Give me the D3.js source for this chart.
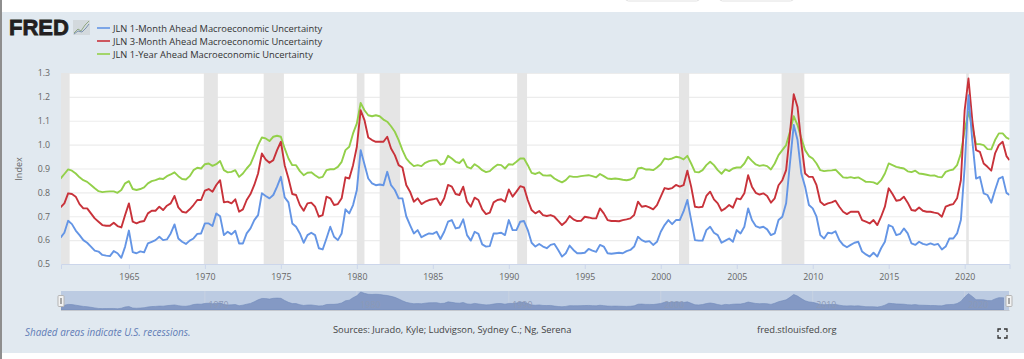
<!DOCTYPE html>
<html>
<head>
<meta charset="utf-8">
<script src="https://cdn.jsdelivr.net/npm/d3@7"></script>
<style>
html, body { margin: 0; padding: 0; background: #fff; overflow: hidden; }
text { font-family: "Open Sans", sans-serif; }
</style>
</head>
<body>
<script>
// data, one value per quarter from mid 1960
var oneMonth = [
    .61, .631,
    .681, .667, .64, .621,
    .60, .589, .573, .556,
    .552, .538, .535, .533,
    .554, .545, .526, .573,
    .64, .55, .545, .553,
    .549, .586, .593, .60,
    .614, .60, .603, .628,
    .666, .607, .593, .584,
    .598, .607, .626, .628,
    .67, .67, .659, .712,
    .70, .621, .635, .624,
    .639, .586, .586, .628,
    .649, .684, .705, .796,
    .785, .775, .789, .824,
    .865, .779, .758, .67,
    .656, .628, .589, .621,
    .631, .621, .566, .561,
    .607, .656, .614, .60,
    .628, .729, .712, .747,
    .81, .977, .918, .858,
    .838, .83, .833, .83,
    .886, .83, .81, .775,
    .775, .70, .663, .628,
    .642, .612, .621, .628,
    .626, .635, .605, .635,
    .677, .684, .649, .653,
    .687, .621, .598, .635,
    .626, .582, .573, .575,
    .628, .628, .631, .621,
    .684, .642, .642, .677,
    .68, .642, .589, .573,
    .584, .573, .566, .58,
    .584, .559, .531, .545,
    .577, .559, .545, .545,
    .547, .563, .556, .551,
    .58, .573, .545, .543,
    .545, .547, .545, .554,
    .559, .573, .614, .60,
    .593, .596, .58, .593,
    .635, .663, .684, .667,
    .684, .684, .72, .768,
    .684, .60, .598, .598,
    .642, .656, .631, .621,
    .589, .598, .607, .593,
    .642, .628, .656, .733,
    .684, .659, .652, .656,
    .645, .621, .628, .684,
    .698, .754, .921, 1.082,
    1.019, .879, .824, .747,
    .733, .698, .621, .607,
    .631, .628, .637, .60,
    .58, .57, .58, .589,
    .593, .552, .54, .531,
    .547, .531, .566, .593,
    .663, .656, .621, .626,
    .649, .628, .586, .58,
    .593, .584, .58, .586,
    .58, .584, .561, .573,
    .607, .607, .628, .684,
    .907, 1.207, 1.019, .858,
    .865, .796, .789, .757,
    .81, .858, .865, .798,
    .789
];
var threeMonth = [
    .737, .754,
    .796, .793, .782, .751,
    .733, .733, .712, .691,
    .677, .663, .66, .66,
    .673, .659, .653, .705,
    .754, .677, .67, .677,
    .68, .712, .723, .723,
    .74, .726, .744, .754,
    .785, .737, .719, .715,
    .729, .747, .768, .768,
    .807, .814, .803, .831,
    .851, .758, .761, .754,
    .771, .719, .729, .768,
    .793, .831, .879, .963,
    .938, .924, .935, .977,
    1.012, .914, .858, .793,
    .789, .747, .723, .754,
    .757, .74, .698, .705,
    .782, .775, .747, .751,
    .775, .863, .858, .914,
    .991, 1.144, 1.103, 1.03,
    1.019, 1.012, 1.012, 1.012,
    1.033, .984, .956, .914,
    .904, .831, .803, .761,
    .775, .751, .761, .768,
    .771, .775, .747, .775,
    .831, .824, .793, .789,
    .824, .761, .74, .778,
    .768, .729, .709, .715,
    .758, .768, .771, .761,
    .812, .782, .803, .826,
    .821, .768, .726, .712,
    .722, .705, .701, .705,
    .698, .681, .663, .677,
    .701, .687, .68, .681,
    .698, .695, .691, .691,
    .733, .712, .684, .68,
    .68, .679, .684, .687,
    .691, .705, .761, .74,
    .743, .737, .729, .747,
    .782, .818, .814, .818,
    .831, .824, .83, .891,
    .824, .74, .737, .74,
    .785, .803, .771, .754,
    .723, .733, .747, .736,
    .775, .771, .796, .872,
    .824, .798, .791, .796,
    .785, .757, .775, .83,
    .851, .893, 1.047, 1.211,
    1.158, 1.005, .879, .865,
    .865, .83, .761, .747,
    .754, .758, .765, .74,
    .719, .709, .719, .719,
    .719, .684, .677, .67,
    .684, .663, .698, .74,
    .817, .793, .765, .768,
    .782, .757, .726, .723,
    .737, .723, .719, .719,
    .715, .712, .698, .74,
    .747, .751, .775, .851,
    1.144, 1.277, 1.103, .977,
    .97, .921, .907, .891,
    .963, .998, 1.012, .952,
    .935
];
var oneYear = [
    .858, .877,
    .896, .891, .879, .863,
    .851, .844, .831, .817,
    .805, .801, .803, .804,
    .804, .798, .81, .838,
    .847, .814, .81, .814,
    .821, .838, .847, .851,
    .858, .856, .868, .875,
    .884, .868, .856, .854,
    .868, .893, .903, .90,
    .918, .921, .911, .918,
    .931, .893, .884, .886,
    .893, .865, .879, .90,
    .918, .956, .998, 1.03,
    1.026, 1.015, 1.033, 1.037,
    1.033, .984, .942, .914,
    .914, .889, .872, .882,
    .884, .872, .861, .865,
    .893, .897, .897, .907,
    .928, .977, .991, 1.047,
    1.089, 1.175, 1.144, 1.123,
    1.119, 1.123, 1.119, 1.105,
    1.096, 1.077, 1.054, 1.019,
    .977, .942, .924, .91,
    .914, .91, .924, .931,
    .934, .935, .916, .921,
    .953, .942, .928, .923,
    .939, .907, .90, .918,
    .907, .893, .885, .889,
    .904, .916, .914, .90,
    .918, .916, .928, .942,
    .942, .914, .882, .877,
    .884, .872, .87, .872,
    .858, .849, .842, .851,
    .868, .865, .865, .868,
    .87, .872, .868, .863,
    .877, .868, .858, .856,
    .858, .856, .853, .851,
    .854, .863, .90, .903,
    .896, .896, .893, .904,
    .918, .942, .938, .942,
    .949, .946, .938, .953,
    .921, .886, .884, .893,
    .914, .928, .914, .893,
    .878, .896, .889, .90,
    .904, .904, .921, .949,
    .932, .917, .911, .914,
    .91, .896, .921, .956,
    .977, .998, 1.054, 1.119,
    1.082, 1.026, .977, .952,
    .942, .921, .893, .889,
    .891, .892, .895, .879,
    .863, .861, .864, .86,
    .863, .854, .844, .844,
    .842, .835, .851, .879,
    .921, .914, .907, .903,
    .90, .888, .885, .891,
    .879, .877, .874, .87,
    .871, .865, .863, .886,
    .892, .896, .914, .963,
    1.061, 1.137, 1.075, 1.002,
    1.002, .998, .981, .98,
    1.019, 1.047, 1.047, 1.029,
    1.023
];
// shaded recessions, start and end year
var recessionStarts = [1960.3, 1969.93, 1973.87, 1980.0, 1981.5, 1990.55, 2001.2, 2007.95, 2020.1];
var recessionEnds = [1961.1, 1970.85, 1975.2, 1980.5, 1982.85, 1991.2, 2001.87, 2009.45, 2020.27];

var yTicks = [0.5, 0.6, 0.7, 0.8, 0.9, 1.0, 1.1, 1.2, 1.3];
var xTicks = [1965, 1970, 1975, 1980, 1985, 1990, 1995, 2000, 2005, 2010, 2015, 2020];
var navTicks = [1970, 1980, 1990, 2000, 2010, 2020];
var legendNames = [
    "JLN 1-Month Ahead Macroeconomic Uncertainty",
    "JLN 3-Month Ahead Macroeconomic Uncertainty",
    "JLN 1-Year Ahead Macroeconomic Uncertainty"
];
var colors = ["#6495e5", "#c8323a", "#93d04a"];

// dates for the values, last one is the partial quarter at the end
var dates = d3.range(1960.5, 2022.8, 0.25);
dates.push(2022.95);

var MARGINS = {top: 73, bottom: 95, left: 61, right: 14.5};
var WIDTH = 1024, HEIGHT = 359;

var svg = d3.select("body").append("svg")
    .attr("width", WIDTH)
    .attr("height", HEIGHT)
    .style("display", "block");

// panel background
svg.append("rect").attr("x", 0).attr("y", 0).attr("width", 2).attr("height", HEIGHT).attr("fill", "#8e8e8e");
svg.append("rect").attr("x", 2).attr("y", 12).attr("width", WIDTH - 2).attr("height", 341).attr("fill", "#e1e9f0");

// the two buttons cut off at the top edge
svg.append("g").selectAll("rect")
    .data([625.5, 719.5])
    .enter().append("rect")
    .attr("x", function (d) { return d; })
    .attr("y", -6)
    .attr("width", 74)
    .attr("height", 7)
    .attr("rx", 3)
    .attr("fill", "#fff")
    .attr("stroke", "#e2e2e2");

var xScale = d3.scaleLinear().domain([1960.53, 2022.95]).range([MARGINS.left, WIDTH - MARGINS.right]);
var yScale = d3.scaleLinear().domain([0.5, 1.3]).range([HEIGHT - MARGINS.bottom, MARGINS.top]);

svg.append("rect")
    .attr("x", MARGINS.left)
    .attr("y", MARGINS.top)
    .attr("width", WIDTH - MARGINS.left - MARGINS.right)
    .attr("height", HEIGHT - MARGINS.top - MARGINS.bottom)
    .attr("fill", "#fff");

svg.append("clipPath").attr("id", "plot-clip").append("rect")
    .attr("x", MARGINS.left)
    .attr("y", MARGINS.top - 2)
    .attr("width", WIDTH - MARGINS.left - MARGINS.right)
    .attr("height", HEIGHT - MARGINS.top - MARGINS.bottom + 2);

// y grid and axis
var yAxis = d3.axisLeft(yScale)
    .tickValues(yTicks)
    .tickFormat(d3.format(".1f"))
    .tickSize(-(WIDTH - MARGINS.left - MARGINS.right))
    .tickPadding(11);
var yG = svg.append("g").attr("transform", "translate(" + MARGINS.left + ",0)").call(yAxis);
yG.select(".domain").remove();
yG.selectAll("line").attr("stroke", "#ececec").attr("stroke-width", 1.2);
yG.selectAll("text").attr("fill", "#666").style("font-size", "8.8px").style("font-family", '"Open Sans", sans-serif');

// recessions
svg.append("g").selectAll("rect")
    .data(recessionStarts)
    .enter().append("rect")
    .attr("x", function (d) { return Math.max(xScale(d), MARGINS.left); })
    .attr("y", MARGINS.top)
    .attr("width", function (d, i) { return xScale(recessionEnds[i]) - Math.max(xScale(d), MARGINS.left); })
    .attr("height", HEIGHT - MARGINS.top - MARGINS.bottom)
    .attr("fill", "#e5e5e5");

// x axis
var xAxis = d3.axisBottom(xScale)
    .tickValues(xTicks)
    .tickFormat(d3.format("d"))
    .tickSize(5)
    .tickPadding(5);
var xG = svg.append("g").attr("transform", "translate(0," + (HEIGHT - MARGINS.bottom) + ")").call(xAxis);
xG.select(".domain").attr("stroke", "#ccd6eb");
xG.selectAll("line").attr("stroke", "#ccd6eb");
xG.selectAll("text").attr("fill", "#666").style("font-size", "8.8px").style("font-family", '"Open Sans", sans-serif');

svg.append("text")
    .attr("transform", "translate(22,169) rotate(-90)")
    .attr("text-anchor", "middle")
    .attr("fill", "#666")
    .style("font-size", "9px")
    .text("Index");

// the three lines
var line = d3.line()
    .x(function (d, i) { return xScale(dates[i]); })
    .y(function (d) { return yScale(d); });

svg.append("g").attr("clip-path", "url(#plot-clip)").selectAll("path")
    .data([oneYear, threeMonth, oneMonth])
    .enter().append("path")
    .attr("d", line)
    .attr("fill", "none")
    .attr("stroke-width", 1.9)
    .attr("stroke-linejoin", "round")
    .attr("stroke", function (d, i) { return [colors[2], colors[1], colors[0]][i]; });

// legend
var legend = svg.append("g").selectAll("g")
    .data(legendNames)
    .enter().append("g")
    .attr("transform", function (d, i) { return "translate(97," + (28 + i * 13) + ")"; });
legend.append("line")
    .attr("x1", 0).attr("x2", 13)
    .attr("stroke", function (d, i) { return colors[i]; })
    .attr("stroke-width", 1.6);
legend.append("text")
    .attr("x", 16)
    .attr("y", 3.5)
    .attr("fill", "#333")
    .style("font-size", "9.33px")
    .text(function (d) { return d; });

// logo
svg.append("text")
    .attr("x", 9)
    .attr("y", 35.4)
    .attr("fill", "#231f20")
    .attr("stroke", "#231f20")
    .attr("stroke-width", 0.8)
    .style("font-family", '"Liberation Sans", sans-serif')
    .style("font-weight", "bold")
    .style("font-size", "22px")
    .text("FRED");
var logo = svg.append("g").attr("transform", "translate(73,20)");
logo.append("rect").attr("width", 17).attr("height", 15).attr("fill", "#d3d9dd");
logo.append("polyline").attr("points", "1,13 5,9 8,11 12,5 16,1").attr("fill", "none").attr("stroke", "#8aa37a").attr("stroke-width", 0.9);
logo.append("polyline").attr("points", "1,14 5,11 9,12 13,8 16,4").attr("fill", "none").attr("stroke", "#6f8aa8").attr("stroke-width", 0.9);

// navigator, shares the x scale of the plot but the area stops short of the right end
var navTop = 291, navBottom = 310, navEnd = 1004;
var navY = d3.scaleLinear().domain([0.77, 1.197]).range([navBottom, navTop]);
svg.append("rect")
    .attr("x", MARGINS.left).attr("y", navTop)
    .attr("width", WIDTH - MARGINS.left - MARGINS.right - 0.5)
    .attr("height", navBottom - navTop)
    .attr("fill", "#bccbe2");
svg.append("clipPath").attr("id", "nav-clip").append("rect")
    .attr("x", MARGINS.left).attr("y", navTop)
    .attr("width", navEnd - MARGINS.left).attr("height", navBottom - navTop);
svg.append("g").selectAll("line")
    .data(navTicks)
    .enter().append("line")
    .attr("x1", function (d) { return xScale(d); })
    .attr("x2", function (d) { return xScale(d); })
    .attr("y1", navTop).attr("y2", navBottom)
    .attr("stroke", "#c8d2e2");
var area = d3.area()
    .x(function (d, i) { return xScale(dates[i]); })
    .y0(navBottom)
    .y1(function (d) { return navY(d); });
svg.append("path")
    .datum(oneYear)
    .attr("d", area)
    .attr("clip-path", "url(#nav-clip)")
    .attr("fill", "#8499c4")
    .attr("stroke", "#7189bb")
    .attr("stroke-width", 0.6);
svg.append("g").selectAll("text")
    .data(navTicks)
    .enter().append("text")
    .attr("x", function (d) { return xScale(d) + 3.5; })
    .attr("y", 307.5)
    .attr("fill", "#8c99b6")
    .style("font-size", "8.8px")
    .text(function (d) { return d; });
svg.append("line")
    .attr("x1", MARGINS.left).attr("x2", WIDTH - MARGINS.right)
    .attr("y1", navBottom + 0.5).attr("y2", navBottom + 0.5)
    .attr("stroke", "#c4c8cf");
var handles = svg.append("g").selectAll("g")
    .data([58, 1006])
    .enter().append("g")
    .attr("transform", function (d) { return "translate(" + d + ",295.5)"; });
handles.append("rect")
    .attr("width", 6)
    .attr("height", 11)
    .attr("rx", 1)
    .attr("fill", "#f2f2f2")
    .attr("stroke", "#b5b5b5");
handles.append("rect")
    .attr("x", 2).attr("y", 2.5)
    .attr("width", 2)
    .attr("height", 6)
    .attr("fill", "#a8a8a8");

// footer
svg.append("text")
    .attr("x", 25).attr("y", 336)
    .attr("fill", "#5f7cb6")
    .style("font-style", "italic")
    .style("font-size", "9.9px")
    .text("Shaded areas indicate U.S. recessions.");
svg.append("text")
    .attr("x", 333).attr("y", 333)
    .attr("fill", "#444")
    .style("font-size", "9.33px")
    .text("Sources: Jurado, Kyle; Ludvigson, Sydney C.; Ng, Serena");
svg.append("text")
    .attr("x", 757).attr("y", 333)
    .attr("fill", "#444")
    .style("font-size", "9.33px")
    .text("fred.stlouisfed.org");

// fullscreen icon corners
svg.append("path")
    .attr("d", "M998,332V329H1001M1004,329H1007V332M1007,335V338H1004M1001,338H998V335")
    .attr("fill", "none")
    .attr("stroke", "#333")
    .attr("stroke-width", 1.3);
</script>
</body>
</html>
